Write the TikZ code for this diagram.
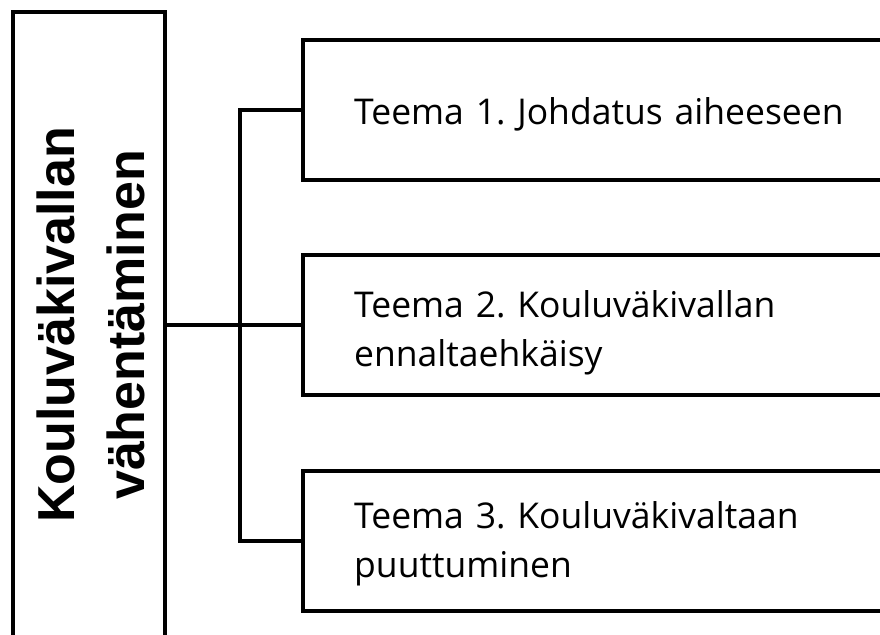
\documentclass[tikz,border=0pt]{standalone}
\usepackage{fontspec}
\setmainfont{Open Sans}
\newfontfamily\titlefont{Liberation Sans}
\frenchspacing
\begin{document}
\begin{tikzpicture}[x=1pt,y=-1pt,
  frame/.style={draw=black,line width=3.5pt,rectangle,inner sep=0pt},
  themebox/.style={frame,minimum width=600pt,minimum height=140pt},
  themetext/.style={anchor=base west,inner sep=0pt,text width=700pt,align=left,
    font=\frenchspacing\fontsize{35.5}{49.5}\selectfont},
  conn/.style={draw=black,line width=3.5pt}]
\useasboundingbox (0,0) rectangle (880,634);
\clip (0,0) rectangle (880,634);
\node[frame,minimum width=152pt,minimum height=648pt] (main) at (89,336) {};
\node[rotate=90,align=center,font=\titlefont\bfseries\fontsize{52}{70}\selectfont] (mainlabel) at (91,325) {Kouluväkivallan\\vähentäminen};
\node[themebox] (b1) at (603,110) {};
\node[themebox] (b2) at (603,325) {};
\node[themebox] (b3) at (603,541) {};
\node[themetext] (t1) at (354,124) {Teema 1. Johdatus aiheeseen};
\node[themetext] (t2) at (354,317) {Teema 2. Kouluväkivallan\\ennaltaehkäisy};
\node[themetext] (t3) at (354,528) {Teema 3. Kouluväkivaltaan\\puuttuminen};
\coordinate (spine) at (240,0);
\draw[conn] (main.east |- b2.west) -- (b2.west);
\draw[conn] (b1.west) -| (spine |- b3.west) -- (b3.west);
\end{tikzpicture}
\end{document}
